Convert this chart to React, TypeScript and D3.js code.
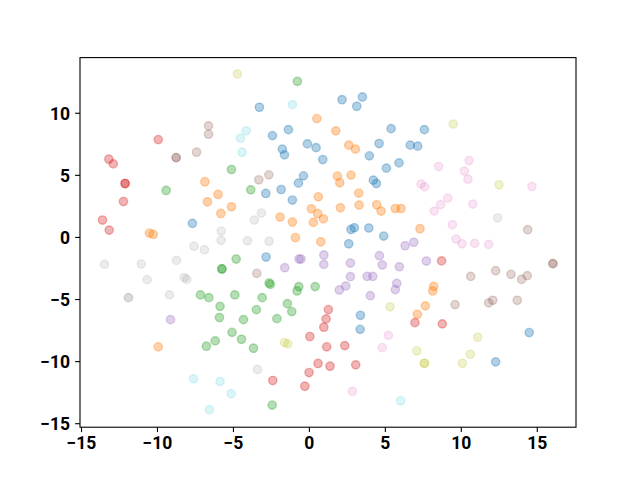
import React from "react";
import * as d3 from "d3";

// t-SNE style embedding, ten classes (tab10)
const blue: [number, number][] = [
  [-7.7, 1.13], [-3.29, 10.48], [-2.43, 8.2], [-1.38, 8.68], [-1.78, 7.11], [-1.64, 6.65],
  [-0.13, 7.53], [0.44, 7.23], [0.88, 6.27], [-0.39, 4.96], [-0.72, 4.37], [-2.87, 3.54],
  [-1.86, 3.86], [-1.12, 3.01], [-2.85, -1.58], [2.15, 11.09], [3.49, 11.31], [3.12, 10.56],
  [5.38, 8.76], [7.57, 8.68], [4.59, 7.56], [6.64, 7.43], [7.13, 7.35], [3.95, 6.57],
  [5.07, 5.58], [5.9, 6.0], [4.21, 4.61], [4.41, 4.34], [2.74, 0.64], [2.96, 0.78],
  [3.91, 0.76], [4.89, 0.11], [2.59, -0.51], [3.36, -6.27], [3.34, -7.4], [14.47, -7.66],
  [12.26, -10.02],
];
const orange: [number, number][] = [
  [-10.53, 0.35], [-10.28, 0.24], [-6.88, 4.48], [-6.71, 2.87], [-6.01, 3.46], [-5.83, 1.93],
  [-5.13, 2.47], [0.49, 9.57], [0.59, 3.27], [0.13, 2.31], [0.55, 1.91], [0.26, 1.21],
  [0.92, 1.5], [-1.93, 1.64], [-1.12, 1.24], [-0.92, -0.02], [0.75, -0.35], [1.74, 8.58],
  [2.59, 7.43], [3.03, 7.11], [1.84, 4.94], [2.0, 4.4], [2.74, 5.02], [3.25, 3.57],
  [2.04, 2.39], [3.27, 2.6], [4.43, 2.63], [4.72, 2.12], [5.66, 2.33], [6.03, 2.33],
  [7.28, 0.7], [8.18, -3.94], [8.12, -4.31], [7.63, -5.51], [7.11, -6.19], [-9.95, -8.81],
];
const green: [number, number][] = [
  [-9.43, 3.78], [-0.79, 12.57], [-5.13, 5.47], [-3.86, 3.83], [-7.17, -4.63], [-6.62, -4.85],
  [-6.78, -8.76], [-4.82, -1.74], [-5.76, -2.54], [-5.76, -2.54], [-2.65, -3.67], [-2.57, -3.78],
  [-0.81, -4.31], [-0.7, -3.96], [0.38, -3.96], [-4.91, -4.63], [-3.11, -4.85], [-5.88, -5.55],
  [-1.45, -5.33], [-1.16, -5.97], [-3.49, -5.81], [-5.92, -6.45], [-4.34, -6.62], [-2.14, -6.54],
  [-5.09, -7.64], [-4.47, -8.2], [-6.2, -8.33], [-3.68, -8.92], [-2.45, -13.5],
];
const red: [number, number][] = [
  [-9.95, 7.88], [-13.2, 6.3], [-12.91, 5.92], [-12.13, 4.34], [-12.13, 4.34], [-12.24, 2.89],
  [-13.62, 1.4], [-13.18, 0.59], [1.25, -5.81], [1.1, -6.56], [0.95, -7.23], [0.03, -7.98],
  [1.14, -8.81], [-2.41, -11.52], [0.57, -10.15], [-0.02, -10.88], [-0.3, -11.98], [1.36, -10.37],
  [2.33, -8.71], [3.05, -10.26], [6.95, -6.86], [8.7, -1.89], [8.75, -6.96],
];
const purple: [number, number][] = [
  [-9.14, -6.62], [-1.62, -2.44], [-0.68, -1.74], [-0.55, -1.74], [0.95, -1.41], [0.95, -2.17],
  [6.3, -0.67], [6.87, -0.39], [2.7, -2.06], [4.61, -1.47], [4.8, -2.22], [5.92, -2.36],
  [7.7, -1.9], [2.7, -3.16], [3.8, -3.14], [4.17, -3.14], [2.39, -3.91], [1.97, -4.23],
  [5.75, -3.7], [5.66, -4.2], [4.01, -4.69],
];
const brown: [number, number][] = [
  [-8.77, 6.43], [-8.77, 6.43], [-7.43, 6.86], [-6.64, 8.98], [-6.64, 8.31], [-3.33, 4.64],
  [-2.67, 5.04], [-3.46, -2.89], [14.37, 0.62], [16.03, -2.11], [16.03, -2.11], [10.62, -3.14],
  [12.26, -2.68], [13.27, -2.97], [13.97, -3.38], [14.34, -3.08], [9.59, -5.41], [11.8, -5.27],
  [12.07, -5.06], [13.68, -5.06],
];
const pink: [number, number][] = [
  [8.51, 5.71], [7.35, 4.29], [7.59, 4.08], [8.22, 2.12], [8.64, 2.65], [9.11, 3.17],
  [10.51, 6.19], [10.2, 5.34], [10.44, 4.69], [14.65, 4.1], [10.75, 2.68], [9.41, 1.02],
  [9.65, -0.13], [10.05, -0.51], [10.88, -0.48], [11.8, -0.56], [5.2, -7.88], [4.8, -8.87],
  [2.83, -12.4],
];
const gray: [number, number][] = [
  [-7.59, -0.71], [-6.91, -0.99], [-13.49, -2.17], [-11.07, -2.14], [-8.75, -1.85], [-10.68, -3.4],
  [-8.24, -3.24], [-8.07, -3.38], [-11.91, -4.85], [-11.91, -4.85], [-9.21, -4.63], [-5.81, -0.23],
  [-4.08, -0.27], [-2.65, -0.31], [-3.16, 1.96], [-3.62, 1.4], [-5.81, 0.51], [-3.42, -10.63],
  [12.39, 1.58],
];
const olive: [number, number][] = [
  [-4.74, 13.16], [9.47, 9.12], [12.48, 4.24], [5.31, -5.59], [-1.64, -8.46], [-1.42, -8.57],
  [7.07, -9.13], [7.57, -10.13], [7.57, -10.13], [11.08, -8.04], [10.59, -9.41], [10.07, -10.13],
];
const cyan: [number, number][] = [
  [-1.12, 10.69], [-4.16, 8.58], [-4.54, 7.99], [-4.43, 6.86], [-7.63, -11.38], [-6.58, -13.87],
  [-5.88, -11.6], [-5.15, -12.59], [6.01, -13.15],
];

const classes = [blue, orange, green, red, purple, brown, pink, gray, olive, cyan];
const colors = ["#1f77b4", "#ff7f0e", "#2ca02c", "#d62728", "#9467bd", "#8c564b", "#e377c2", "#7f7f7f", "#bcbd22", "#17becf"];
const alphas = [0.35, 0.35, 0.35, 0.35, 0.3, 0.25, 0.2, 0.15, 0.22, 0.15];

const xTicks = [-15, -10, -5, 0, 5, 10, 15];
const yTicks = [-15, -10, -5, 0, 5, 10];

export default function App() {
  const W = 640, H = 480;
  const L = 80, R = 576, T = 57.6, B = 427.2;
  const x = d3.scaleLinear().domain([-15.1, 17.55]).range([L, R]);
  const y = d3.scaleLinear().domain([-15.28, 14.48]).range([B, T]);
  const fmt = (v: number) => (v < 0 ? "\u2212" + Math.abs(v) : String(v));
  const font = "Roboto, 'DejaVu Sans', sans-serif";
  return (
    <svg width={W} height={H} style={{ position: "absolute", left: 0, top: 0, background: "#fff" }}>
      <rect x={0} y={0} width={W} height={H} fill="#fff" />
      {classes.map((pts, ci) =>
        pts.map((p, i) => (
          <circle
            key={`${ci}-${i}`}
            cx={x(p[0])}
            cy={y(p[1])}
            r={4.17}
            fill={colors[ci]}
            fillOpacity={alphas[ci]}
            stroke={colors[ci]}
            strokeOpacity={alphas[ci]}
            strokeWidth={1.39}
          />
        ))
      )}
      <rect x={L} y={T} width={R - L} height={B - T} fill="none" stroke="#000" strokeWidth={1.1} />
      {xTicks.map((t) => (
        <g key={"x" + t}>
          <line x1={x(t)} x2={x(t)} y1={B} y2={B + 4.9} stroke="#000" strokeWidth={1.1} />
          <text x={x(t)} y={B + 22} textAnchor="middle" fontFamily={font} fontWeight="bold" fontSize={17.5} fill="#000">
            {fmt(t)}
          </text>
        </g>
      ))}
      {yTicks.map((t) => (
        <g key={"y" + t}>
          <line x1={L - 4.9} x2={L} y1={y(t)} y2={y(t)} stroke="#000" strokeWidth={1.1} />
          <text x={L - 10} y={y(t)} dy="0.36em" textAnchor="end" fontFamily={font} fontWeight="bold" fontSize={17.5} fill="#000">
            {fmt(t)}
          </text>
        </g>
      ))}
    </svg>
  );
}
